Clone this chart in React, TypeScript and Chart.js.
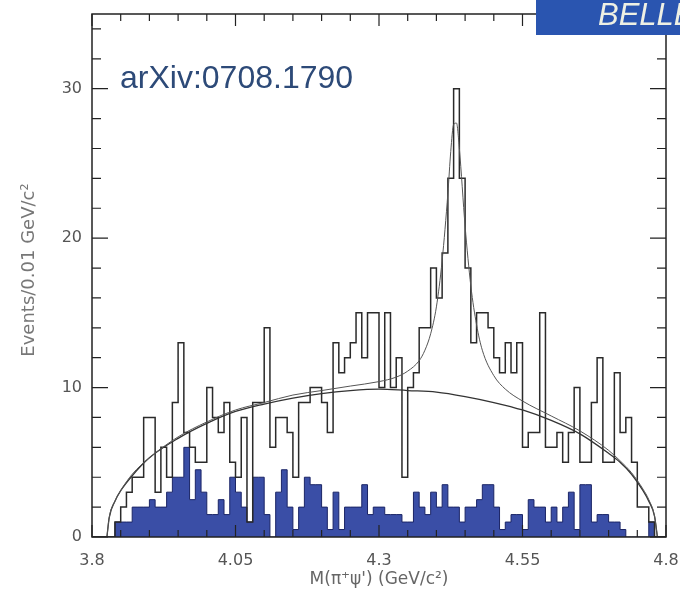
import React, { useEffect, useRef } from 'react';
import { Chart, registerables } from 'chart.js';

Chart.register(...registerables);

// ---- data ----
const binLow = 3.8;
const binWidth = 0.01;

// events per 0.01 GeV bin (open histogram), bins starting at 3.80
const dataCounts = [
  0, 0, 0, 0, 1, 2, 3, 4, 4, 8,
  8, 3, 6, 4, 9, 13, 7, 6, 5, 5,
  10, 8, 7, 9, 5, 4, 8, 1, 9, 9,
  14, 6, 8, 8, 7, 4, 9, 9, 10, 10,
  9, 7, 13, 11, 12, 13, 15, 12, 15, 15,
  10, 15, 10, 12, 4, 10, 11, 14, 14, 18,
  16, 19, 24, 30, 24, 18, 13, 15, 15, 14,
  12, 11, 13, 11, 13, 6, 7, 7, 15, 6,
  6, 7, 5, 7, 10, 5, 5, 9, 12, 5,
  5, 11, 7, 8, 5, 2, 2, 1, 0, 0,
];

// sideband background (filled histogram)
const sidebandCounts = [
  0, 0, 0, 0, 1, 1, 1, 2, 2, 2,
  2.5, 2, 2, 3, 4, 4, 6, 2.5, 4.5, 3,
  1.5, 1.5, 2.5, 1.5, 4, 3, 2, 1, 4, 4,
  1.5, 0, 3, 4.5, 2, 0.5, 2, 4, 3.5, 3.5,
  2, 0.5, 3, 0.5, 2, 2, 2, 3.5, 1.5, 2,
  2, 1.5, 1.5, 1.5, 1, 1, 3, 2, 1.5, 3,
  2, 3.5, 2, 2, 1, 2, 2, 2.5, 3.5, 3.5,
  2, 0.5, 1, 1.5, 1.5, 0.5, 2.5, 2, 2, 1,
  2, 1, 2, 3, 0.5, 3.5, 3.5, 1, 1.5, 1.5,
  1, 1, 0.5, 0, 0, 0, 0, 1, 0, 0,
];

// background fit curve
const bkgFitMass = [3.826, 3.83, 3.84, 3.85, 3.87, 3.9, 3.95, 4.0, 4.05, 4.1, 4.15, 4.2, 4.25, 4.3, 4.35, 4.4, 4.45, 4.5, 4.55, 4.6, 4.65, 4.7, 4.72, 4.74, 4.76, 4.77, 4.78, 4.785];
const bkgFitValue = [0, 1.3, 2.4, 3.1, 4.1, 5.3, 6.6, 7.6, 8.4, 8.9, 9.3, 9.6, 9.8, 9.9, 9.8, 9.7, 9.4, 9.0, 8.5, 7.8, 6.9, 5.6, 5.0, 4.2, 3.1, 2.4, 1.4, 0];

// signal + background fit curve
const totalFitMass = [3.826, 3.83, 3.84, 3.85, 3.87, 3.9, 3.95, 4.0, 4.05, 4.1, 4.15, 4.2, 4.25, 4.3, 4.33, 4.35, 4.37, 4.38, 4.39, 4.4, 4.41, 4.42, 4.425, 4.43, 4.435, 4.44, 4.45, 4.46, 4.47, 4.48, 4.5, 4.52, 4.55, 4.6, 4.65, 4.7, 4.72, 4.74, 4.76, 4.77, 4.78, 4.785];
const totalFitValue = [0, 1.3, 2.4, 3.1, 4.2, 5.3, 6.7, 7.7, 8.5, 9.0, 9.5, 9.8, 10.1, 10.4, 10.7, 11.1, 11.8, 12.5, 13.6, 15.4, 18.5, 23.0, 25.8, 27.6, 27.7, 26.0, 20.8, 16.8, 14.2, 12.5, 10.8, 9.9, 9.1, 8.1, 7.1, 5.8, 5.1, 4.3, 3.2, 2.5, 1.4, 0];

const xMin = 3.8;
const xMax = 4.8;
const yMin = 0;
const yMax = 35;
const xTickValues = [3.8, 4.05, 4.3, 4.55, 4.8];
const xTickLabels = ['3.8', '4.05', '4.3', '4.55', '4.8'];
const yTickValues = [0, 10, 20, 30];
const yTickLabels = ['0', '10', '20', '30'];
const xMinorStep = 0.05;
const yMinorStep = 2;

const xTitle = "M(\u03c0\u207a\u03c8') (GeV/c\u00b2)";
const yTitle = 'Events/0.01 GeV/c\u00b2';
const noteText = 'arXiv:0708.1790';
const bannerText = 'BELLE';

function stepPoints(vals: number[]) {
  const pts = vals.map((v, i) => ({ x: binLow + i * binWidth, y: v }));
  pts.push({ x: binLow + vals.length * binWidth, y: vals[vals.length - 1] });
  return pts;
}

function curvePoints(xs: number[], ys: number[]) {
  return xs.map((x, i) => ({ x, y: ys[i] }));
}

const decorPlugin = {
  id: 'decor',
  afterDatasetsDraw(chart: any) {
    const { ctx, chartArea, scales } = chart;
    const xs = scales.x;
    const ys = scales.y;
    const { left, right, top, bottom } = chartArea;
    ctx.save();
    // frame
    ctx.strokeStyle = '#222';
    ctx.lineWidth = 1.5;
    ctx.strokeRect(left, top, right - left, bottom - top);

    // x ticks (inward, top and bottom)
    ctx.lineWidth = 1.2;
    const nX = Math.round((xMax - xMin) / xMinorStep);
    for (let k = 0; k <= nX; k++) {
      const v = xMin + k * xMinorStep;
      const major = xTickValues.some((t) => Math.abs(t - v) < 1e-6);
      const px = xs.getPixelForValue(v);
      const len = major ? 12 : 7;
      ctx.beginPath();
      ctx.moveTo(px, bottom);
      ctx.lineTo(px, bottom - len);
      ctx.moveTo(px, top);
      ctx.lineTo(px, top + len);
      ctx.stroke();
    }
    // y ticks (inward, left and right)
    const nY = Math.round((yMax - yMin) / yMinorStep);
    for (let k = 0; k <= nY; k++) {
      const v = yMin + k * yMinorStep;
      const major = yTickValues.some((t) => Math.abs(t - v) < 1e-6);
      const py = ys.getPixelForValue(v);
      const len = major ? 16 : 9;
      ctx.beginPath();
      ctx.moveTo(left, py);
      ctx.lineTo(left + len, py);
      ctx.moveTo(right, py);
      ctx.lineTo(right - len, py);
      ctx.stroke();
    }

    // axis titles
    ctx.fillStyle = '#666';
    ctx.font = '17px "DejaVu Sans"';
    ctx.textAlign = 'center';
    ctx.textBaseline = 'middle';
    ctx.fillText(xTitle, (left + right) / 2, 580);
    ctx.save();
    ctx.translate(29, 270);
    ctx.rotate(-Math.PI / 2);
    ctx.font = '18px "DejaVu Sans"';
    ctx.fillStyle = '#777';
    ctx.fillText(yTitle, 0, 0);
    ctx.restore();

    // note text
    ctx.fillStyle = '#2d4a78';
    ctx.font = '32px "Liberation Sans"';
    ctx.textAlign = 'left';
    ctx.textBaseline = 'alphabetic';
    ctx.fillText(noteText, 120, 88);

    // banner
    ctx.fillStyle = '#2a55b0';
    ctx.fillRect(536, 0, 680 - 536, 35);
    ctx.fillStyle = '#eef0e4';
    ctx.font = 'italic 31px "Liberation Sans"';
    ctx.fillText(bannerText, 598, 25);
    ctx.restore();
  },
};

export default function App() {
  const ref = useRef<HTMLCanvasElement | null>(null);
  useEffect(() => {
    document.body.style.margin = '0';
    const canvas = ref.current;
    if (!canvas) return;
    const chart = new Chart(canvas, {
      type: 'line',
      data: {
        datasets: [
          {
            label: 'Signal + background fit',
            data: curvePoints(totalFitMass, totalFitValue),
            borderColor: '#555',
            borderWidth: 1,
            pointRadius: 0,
            fill: false,
            cubicInterpolationMode: 'monotone',
            order: 1,
          },
          {
            label: 'Background fit',
            data: curvePoints(bkgFitMass, bkgFitValue),
            borderColor: '#333',
            borderWidth: 1.3,
            pointRadius: 0,
            fill: false,
            cubicInterpolationMode: 'monotone',
            order: 1,
          },
          {
            label: 'Data',
            data: stepPoints(dataCounts),
            stepped: 'before',
            borderColor: '#2a2a2a',
            borderWidth: 1.5,
            pointRadius: 0,
            fill: false,
            order: 2,
          },
          {
            label: 'Sideband',
            data: stepPoints(sidebandCounts),
            stepped: 'before',
            borderColor: '#1b2566',
            borderWidth: 1,
            backgroundColor: '#3a4ea6',
            fill: 'origin',
            pointRadius: 0,
            order: 3,
          },
        ],
      },
      options: {
        responsive: false,
        animation: false,
        events: [],
        layout: { padding: { top: 14, right: 14, left: 0, bottom: 0 } },
        plugins: { legend: { display: false }, tooltip: { enabled: false } },
        scales: {
          x: {
            type: 'linear',
            min: xMin,
            max: xMax,
            grid: { display: false, drawTicks: false },
            border: { display: false },
            afterBuildTicks: (s: any) => {
              s.ticks = xTickValues.map((v) => ({ value: v }));
            },
            afterFit: (s: any) => {
              s.height = 53;
              s.paddingLeft = 0;
              s.paddingRight = 0;
            },
            ticks: {
              autoSkip: false,
              maxRotation: 0,
              padding: 14,
              color: '#555',
              font: { family: 'DejaVu Sans', size: 16 },
              callback: (v: any) => {
                const i = xTickValues.findIndex((t) => Math.abs(t - Number(v)) < 1e-6);
                return i >= 0 ? xTickLabels[i] : '';
              },
            },
          },
          y: {
            type: 'linear',
            min: yMin,
            max: yMax,
            grid: { display: false, drawTicks: false },
            border: { display: false },
            afterBuildTicks: (s: any) => {
              s.ticks = yTickValues.map((v) => ({ value: v }));
            },
            afterFit: (s: any) => {
              s.width = 92;
              s.paddingTop = 0;
              s.paddingBottom = 0;
            },
            ticks: {
              autoSkip: false,
              padding: 10,
              color: '#555',
              font: { family: 'DejaVu Sans', size: 16 },
              callback: (v: any) => {
                const i = yTickValues.findIndex((t) => Math.abs(t - Number(v)) < 1e-6);
                return i >= 0 ? yTickLabels[i] : '';
              },
            },
          },
        },
      },
      plugins: [decorPlugin],
    } as any);
    return () => chart.destroy();
  }, []);
  return (
    <div style={{ width: 680, height: 590, background: '#fff' }}>
      <canvas ref={ref} width={680} height={590} style={{ display: 'block' }} />
    </div>
  );
}
